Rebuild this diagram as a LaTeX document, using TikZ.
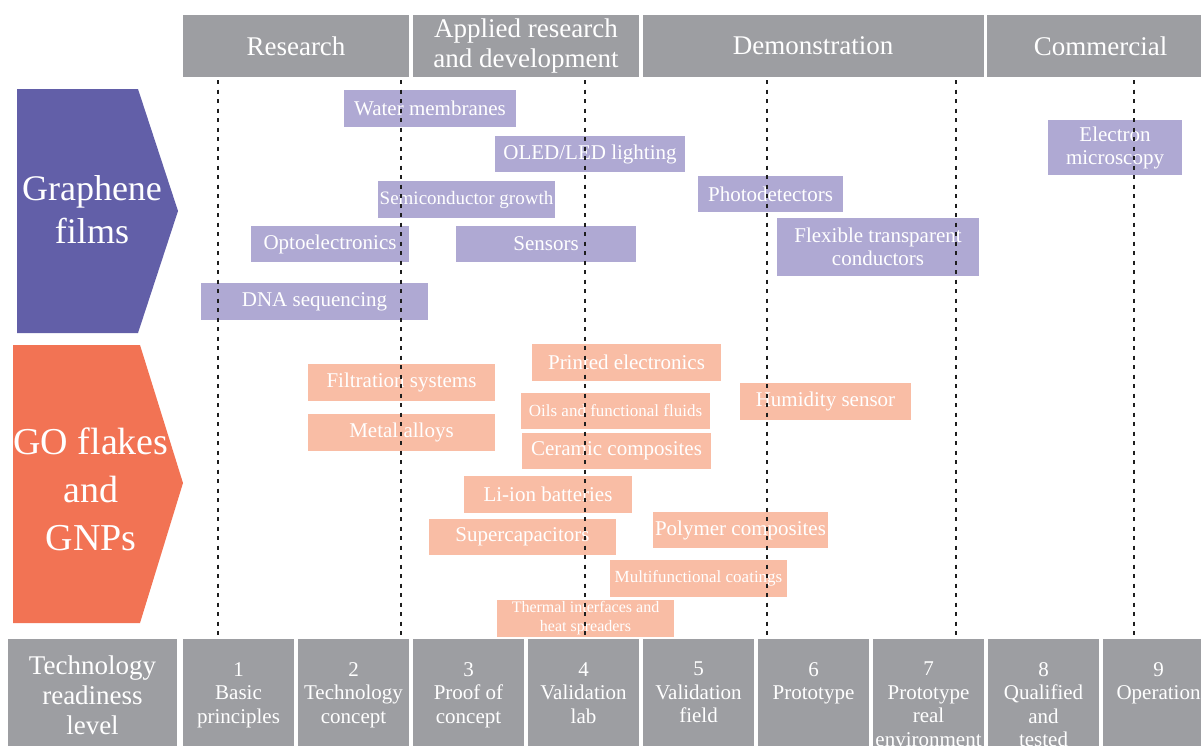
\documentclass[tikz,border=0pt]{standalone}
\usepackage{fontspec}
\setmainfont{Liberation Serif}
\definecolor{trlgray}{HTML}{9D9EA2}
\definecolor{filmdark}{HTML}{625FA8}
\definecolor{flakedark}{HTML}{F27354}
\definecolor{filmlight}{HTML}{AFA9D3}
\definecolor{flakelight}{HTML}{F9BDA5}
\definecolor{ink}{HTML}{1E1E1E}
\newcommand{\lvltext}[1]{\parbox[t][112pt][t]{111pt}{\vspace*{23pt}\centering #1}}

\begin{document}
\begin{tikzpicture}[
  x=1pt,y=-1pt,
  head/.style={fill=trlgray,text=white,align=center,inner sep=0pt,minimum height=62pt,
    font=\fontsize{27}{30}\selectfont},
  lvl/.style={fill=trlgray,text=white,anchor=north,inner sep=0pt,
    font=\fontsize{21}{23.5}\selectfont},
  film/.style={fill=filmlight,text=white,align=center,inner sep=0pt,
    font=\fontsize{21}{23}\selectfont},
  flake/.style={fill=flakelight,text=white,align=center,inner sep=0pt,
    font=\fontsize{21}{23}\selectfont},
  small/.style={font=\fontsize{17}{19}\selectfont},
  guide/.style={ink,line width=2pt,dash pattern=on 4pt off 5.5pt}
]
\useasboundingbox (0,0) rectangle (1201,745);

% stages
\node[head,minimum width=226pt] (research) at (296,46) {Research};
\node[head,minimum width=226pt] (applied) at (526,46) {Applied research\\and development};
\node[head,minimum width=341pt] (demo) at (813,46) {Demonstration};
\node[head,minimum width=227pt] (commercial) at (1100.5,46) {Commercial};

% material classes
\fill[filmdark] (17,89) -- (138,89) -- (178,211) -- (138,333) -- (17,333) -- cycle;
\node[text=white,align=center,font=\fontsize{36}{43}\selectfont] (graphene) at (92,210) {Graphene\\films};
\fill[flakedark] (13,345) -- (140,345) -- (183,483) -- (140,623) -- (13,623) -- cycle;
\node[text=white,align=center,font=\fontsize{38}{48}\selectfont] (flakes) at (91,489) {GO flakes\\and\\GNPs};

% graphene film applications
\node[film,minimum width=172pt,minimum height=37pt] (water) at (430,108.5) {Water membranes};
\node[film,minimum width=190pt,minimum height=36pt] (oled) at (590,154) {OLED/LED lighting};
\node[film,minimum width=177pt,minimum height=37pt,font=\fontsize{19}{21}\selectfont] (semi) at (466.5,199.5) {Semiconductor growth};
\node[film,minimum width=158pt,minimum height=36pt] (opto) at (330,244) {Optoelectronics};
\node[film,minimum width=180pt,minimum height=36pt] (sensors) at (546,244) {Sensors};
\node[film,minimum width=227pt,minimum height=37pt] (dna) at (314.5,301.5) {DNA sequencing};
\node[film,minimum width=145pt,minimum height=36pt] (photo) at (770.5,194) {Photodetectors};
\node[film,minimum width=202pt,minimum height=58pt] (flex) at (878,247) {Flexible transparent\\conductors};
\node[film,minimum width=134pt,minimum height=55pt] (electron) at (1115,147.5) {Electron\\microscopy};

% flake applications
\node[flake,minimum width=189pt,minimum height=37pt] (printed) at (626.5,362.5) {Printed electronics};
\node[flake,minimum width=187pt,minimum height=37pt] (filtration) at (401.5,382.5) {Filtration systems};
\node[flake,small,minimum width=189pt,minimum height=36pt] (oils) at (615.5,411) {Oils and functional fluids};
\node[flake,minimum width=187pt,minimum height=37pt] (metal) at (401.5,432.5) {Metal alloys};
\node[flake,minimum width=189pt,minimum height=36pt] (ceramic) at (616.5,451) {Ceramic composites};
\node[flake,minimum width=171pt,minimum height=37pt] (humidity) at (825.5,401.5) {Humidity sensor};
\node[flake,minimum width=168pt,minimum height=37pt] (liion) at (548,494.5) {Li-ion batteries};
\node[flake,minimum width=187pt,minimum height=36pt] (supercap) at (522.5,537) {Supercapacitors};
\node[flake,minimum width=175pt,minimum height=36pt] (polymer) at (740.5,530) {Polymer composites};
\node[flake,small,minimum width=177pt,minimum height=37pt] (coatings) at (698.5,578.5) {Multifunctional coatings};
\node[flake,minimum width=177pt,minimum height=37pt,font=\fontsize{16}{19}\selectfont] (thermal) at (585.5,618.5) {Thermal interfaces and\\heat spreaders};

% readiness levels
\node[head,minimum width=169pt,minimum height=112pt] (trl) at (92.5,695) {Technology\\readiness\\level};
\node[lvl] (l1) at (238.5,639) {\lvltext{1\\Basic\\principles}};
\node[lvl] (l2) at (353.5,639) {\lvltext{2\\Technology\\concept}};
\node[lvl] (l3) at (468.5,639) {\lvltext{3\\Proof of\\concept}};
\node[lvl] (l4) at (583.5,639) {\lvltext{4\\Validation\\lab}};
\node[lvl] (l5) at (698.5,639) {\lvltext{5\\Validation\\field}};
\node[lvl] (l6) at (813.5,639) {\lvltext{6\\Prototype}};
\node[lvl] (l7) at (928.5,639) {\lvltext{7\\Prototype\\real\\environment}};
\node[lvl] (l8) at (1043.5,639) {\lvltext{8\\Qualified\\and\\tested}};
\node[lvl] (l9) at (1158.5,639) {\lvltext{9\\Operation}};

% dotted guides over the boxes
\draw[guide] (218,80) -- (218,639);
\draw[guide] (401,80) -- (401,639);
\draw[guide] (585,80) -- (585,639);
\draw[guide] (767,80) -- (767,639);
\draw[guide] (956,80) -- (956,639);
\draw[guide] (1134,80) -- (1134,639);
\end{tikzpicture}
\end{document}
